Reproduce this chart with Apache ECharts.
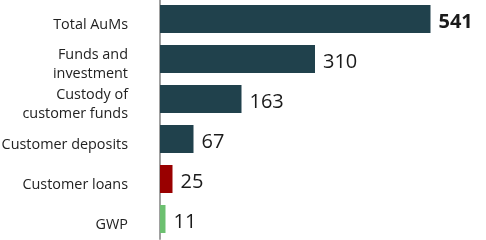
<!DOCTYPE html>
<html>
<head>
<meta charset="utf-8">
<script src="https://cdn.jsdelivr.net/npm/echarts@6/dist/echarts.min.js"></script>
<style>html,body{margin:0;padding:0;background:#fff}#c{width:486px;height:240px}</style>
</head>
<body>
<div id="c"></div>
<script>
const categories = ["Total AuMs", "Funds and\ninvestment", "Custody of\ncustomer funds", "Customer deposits", "Customer loans", "GWP"];
const values = [541, 310, 163, 67, 25, 11];
const barColors = ["#20414c", "#20414c", "#20414c", "#20414c", "#990000", "#6cc070"];
const boldFlags = [true, false, false, false, false, false];

const chart = echarts.init(document.getElementById('c'), null, {renderer: 'canvas'});
chart.setOption({
  animation: false,
  grid: {left: 160, right: 26, top: -1, bottom: 1, containLabel: false, outerBoundsMode: 'none'},
  xAxis: {type: 'value', min: 0, max: 600, show: false},
  yAxis: {
    type: 'category', data: categories, inverse: true, offset: 1,
    axisLine: {show: true, lineStyle: {color: '#a0a0a0', width: 2}},
    axisTick: {show: false},
    axisLabel: {
      margin: 31, align: 'right',
      formatter: v => '{s|}\n' + v.split('\n').map(l => '{t|' + l + '}').join('\n'),
      rich: {
        s: {height: 11, lineHeight: 11, fontSize: 10},
        t: {fontFamily: 'Open Sans', fontSize: 14.4, color: '#222', lineHeight: 19, align: 'right'}
      }
    }
  },
  series: [{
    type: 'bar', barWidth: 28,
    data: values.map((v, i) => ({
      value: v,
      itemStyle: {color: barColors[i]},
      label: {fontWeight: boldFlags[i] ? 'bold' : 'normal'}
    })),
    label: {show: true, position: 'right', distance: 8, offset: [0, 3.5], fontFamily: 'Open Sans', fontSize: 20, color: '#1a1a1a'}
  }]
});
</script>
</body>
</html>
